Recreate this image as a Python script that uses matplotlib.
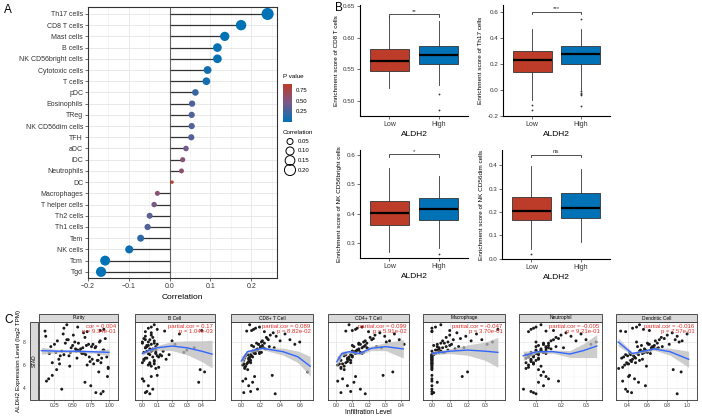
import numpy as np
import matplotlib
matplotlib.use('Agg')
import matplotlib.pyplot as plt
from matplotlib.colors import LinearSegmentedColormap
from matplotlib.patches import Rectangle

plt.rcParams['font.family'] = ['Liberation Sans', 'DejaVu Sans']

# ---------------- panel A data ----------------
cells = ['Th17 cells', 'CD8 T cells', 'Mast cells', 'B cells', 'NK CD56bright cells',
         'Cytotoxic cells', 'T cells', 'pDC', 'Eosinophils', 'TReg', 'NK CD56dim cells',
         'TFH', 'aDC', 'iDC', 'Neutrophils', 'DC', 'Macrophages', 'T helper cells',
         'Th2 cells', 'Th1 cells', 'Tem', 'NK cells', 'Tcm', 'Tgd']
corr = [0.24, 0.175, 0.135, 0.117, 0.117, 0.093, 0.09, 0.063, 0.055, 0.054, 0.054,
        0.053, 0.04, 0.032, 0.029, 0.006, -0.03, -0.038, -0.049, -0.054, -0.071,
        -0.099, -0.158, -0.168]
pval = [0.0, 0.0007, 0.009, 0.023, 0.023, 0.07, 0.08, 0.22, 0.29, 0.30, 0.30,
        0.31, 0.44, 0.54, 0.58, 0.91, 0.56, 0.46, 0.34, 0.30, 0.17, 0.055, 0.002, 0.001]
size_legend = [0.05, 0.10, 0.15, 0.20]
pval_ticks = [0.25, 0.50, 0.75]

# ---------------- panel B data ----------------
b_ylabels = ['Enrichment score of CD8 T cells', 'Enrichment score of Th17 cells',
             'Enrichment score of NK CD56bright cells', 'Enrichment score of NK CD56dim cells']
groups = ['Low', 'High']
# whislo, q1, median, q3, whishi
b_low = [[0.520, 0.547, 0.564, 0.583, 0.634],
         [-0.077, 0.140, 0.228, 0.300, 0.467],
         [0.271, 0.361, 0.402, 0.443, 0.555],
         [0.041, 0.167, 0.206, 0.264, 0.397]]
b_high = [[0.525, 0.558, 0.572, 0.587, 0.627],
          [0.000, 0.200, 0.277, 0.338, 0.467],
          [0.283, 0.379, 0.416, 0.453, 0.530],
          [0.071, 0.172, 0.218, 0.283, 0.383]]
b_low_out = [[], [-0.115, -0.154], [], [0.021]]
b_high_out = [[0.511, 0.485], [0.55, -0.005, -0.02, -0.03, -0.04, -0.123], [0.262], []]
b_sig = ['**', '***', '*', 'ns']
b_bracket = [0.637, 0.600, 0.602, 0.446]
b_ylim = [(0.476, 0.652), (-0.2, 0.654), (0.249, 0.617), (-0.002, 0.466)]
b_yticks = [[0.50, 0.55, 0.60, 0.65], [-0.2, 0.0, 0.2, 0.4, 0.6],
            [0.3, 0.4, 0.5, 0.6], [0.0, 0.1, 0.2, 0.3, 0.4]]

# ---------------- panel C data ----------------
c_titles = ['Purity', 'B Cell', 'CD8+ T Cell', 'CD4+ T Cell', 'Macrophage', 'Neutrophil', 'Dendritic Cell']
c_notes = ['cor = 0.004\np = 9.34e-01', 'partial.cor = 0.17\np = 1.04e-03',
           'partial.cor = 0.089\np = 8.82e-02', 'partial.cor = 0.099\np = 5.91e-02',
           'partial.cor = -0.047\np = 3.70e-01', 'partial.cor = -0.005\np = 9.21e-01',
           'partial.cor = -0.016\np = 7.57e-01']
c_xlim = [(0.037, 1.01), (-0.02, 0.49), (-0.015, 0.735), (-0.01, 0.43),
          (-0.02, 0.41), (0.032, 0.364), (0.283, 1.05)]
c_xticks = [[0.25, 0.50, 0.75, 1.00], [0.0, 0.1, 0.2, 0.3, 0.4], [0.0, 0.2, 0.4, 0.6],
            [0.0, 0.1, 0.2, 0.3, 0.4], [0.0, 0.1, 0.2, 0.3], [0.1, 0.2, 0.3],
            [0.4, 0.6, 0.8, 1.0]]
c_xticklabels = [['0.25', '0.50', '0.75', '1.00'], ['0.0', '0.1', '0.2', '0.3', '0.4'],
                 ['0.0', '0.2', '0.4', '0.6'], ['0.0', '0.1', '0.2', '0.3', '0.4'],
                 ['0.0', '0.1', '0.2', '0.3'], ['0.1', '0.2', '0.3'], ['0.4', '0.6', '0.8', '1.0']]

# ALDH2 expression (shared by all panels)
aldh2 = [7.2, 7.8, 6.5, 8.1, 7.0, 6.8, 7.5, 8.4, 6.2, 7.3,
         7.9, 6.9, 7.6, 8.6, 6.4, 7.1, 7.7, 6.7, 8.2, 7.4,
         6.1, 7.0, 8.0, 6.6, 7.2, 8.8, 6.3, 7.5, 6.9, 7.8,
         6.0, 7.3, 8.3, 6.8, 7.6, 5.9, 7.1, 8.5, 6.5, 7.4,
         7.9, 6.2, 7.0, 8.1, 6.7, 7.7, 5.8, 7.2, 8.7, 6.4,
         7.6, 6.9, 8.2, 7.3, 6.6, 7.8, 6.1, 7.5, 8.0, 7.1,
         9.2, 9.5, 8.9, 9.0, 9.3, 8.95, 9.1, 5.6, 5.4, 5.7,
         5.1, 4.8, 4.5, 4.2, 3.9, 3.6, 3.5, 4.6, 5.0, 3.7]
purity = [0.55, 0.72, 0.31, 0.88, 0.63, 0.45, 0.81, 0.67, 0.22, 0.93,
          0.58, 0.38, 0.76, 0.51, 0.84, 0.27, 0.69, 0.97, 0.42, 0.61,
          0.79, 0.18, 0.53, 0.90, 0.35, 0.65, 0.74, 0.48, 0.86, 0.25,
          0.70, 0.57, 0.95, 0.33, 0.82, 0.46, 0.62, 0.13, 0.77, 0.54,
          0.40, 0.89, 0.66, 0.29, 0.73, 0.50, 0.99, 0.60, 0.37, 0.85,
          0.20, 0.68, 0.44, 0.92, 0.56, 0.78, 0.32, 0.64, 0.87, 0.47,
          0.38, 0.42, 0.70, 0.88, 0.57, 0.12, 0.93, 0.28, 0.86, 0.99,
          0.22, 0.17, 0.67, 0.75, 0.35, 0.82, 0.89, 0.14, 0.98, 0.92]
bcell = [0.03, 0.06, 0.01, 0.08, 0.04, 0.10, 0.02, 0.07, 0.05, 0.09,
         0.00, 0.12, 0.03, 0.06, 0.08, 0.01, 0.04, 0.11, 0.02, 0.07,
         0.05, 0.09, 0.00, 0.03, 0.14, 0.06, 0.08, 0.02, 0.05, 0.10,
         0.04, 0.07, 0.01, 0.13, 0.03, 0.06, 0.09, 0.02, 0.16, 0.05,
         0.08, 0.00, 0.04, 0.20, 0.07, 0.03, 0.11, 0.06, 0.25, 0.01,
         0.09, 0.18, 0.05, 0.30, 0.02, 0.22, 0.08, 0.35, 0.04, 0.28,
         0.04, 0.08, 0.02, 0.40, 0.06, 0.15, 0.10, 0.39, 0.42, 0.09,
         0.10, 0.00, 0.38, 0.04, 0.07, 0.02, 0.05, 0.01, 0.06, 0.03]
cd8 = [0.12, 0.18, 0.08, 0.22, 0.15, 0.05, 0.20, 0.26, 0.10, 0.16,
       0.24, 0.07, 0.13, 0.30, 0.03, 0.19, 0.11, 0.09, 0.28, 0.17,
       0.06, 0.14, 0.21, 0.04, 0.12, 0.33, 0.08, 0.23, 0.10, 0.18,
       0.02, 0.15, 0.27, 0.11, 0.20, 0.05, 0.13, 0.36, 0.09, 0.25,
       0.16, 0.07, 0.19, 0.40, 0.12, 0.22, 0.04, 0.14, 0.45, 0.10,
       0.29, 0.06, 0.50, 0.17, 0.08, 0.55, 0.03, 0.34, 0.60, 0.21,
       0.15, 0.09, 0.24, 0.11, 0.19, 0.06, 0.13, 0.07, 0.68, 0.04,
       0.32, 0.05, 0.12, 0.08, 0.17, 0.03, 0.35, 0.02, 0.14, 0.10]
cd4 = [0.10, 0.14, 0.07, 0.18, 0.12, 0.05, 0.16, 0.21, 0.09, 0.13,
       0.19, 0.06, 0.11, 0.24, 0.03, 0.15, 0.10, 0.08, 0.22, 0.14,
       0.04, 0.12, 0.17, 0.02, 0.10, 0.27, 0.07, 0.19, 0.09, 0.15,
       0.01, 0.13, 0.23, 0.10, 0.17, 0.05, 0.11, 0.30, 0.08, 0.20,
       0.14, 0.06, 0.16, 0.33, 0.10, 0.18, 0.03, 0.12, 0.36, 0.09,
       0.25, 0.05, 0.39, 0.14, 0.07, 0.42, 0.02, 0.28, 0.31, 0.17,
       0.13, 0.08, 0.20, 0.10, 0.16, 0.06, 0.12, 0.05, 0.35, 0.03,
       0.29, 0.04, 0.11, 0.07, 0.15, 0.03, 0.18, 0.01, 0.12, 0.09]
macro = [0.00, 0.03, 0.00, 0.06, 0.01, 0.00, 0.04, 0.08, 0.00, 0.02,
         0.05, 0.00, 0.03, 0.10, 0.00, 0.07, 0.01, 0.00, 0.12, 0.04,
         0.00, 0.02, 0.09, 0.00, 0.05, 0.14, 0.00, 0.06, 0.01, 0.11,
         0.00, 0.03, 0.16, 0.00, 0.08, 0.00, 0.04, 0.19, 0.00, 0.13,
         0.07, 0.00, 0.02, 0.22, 0.00, 0.10, 0.00, 0.05, 0.25, 0.00,
         0.15, 0.00, 0.28, 0.09, 0.00, 0.31, 0.00, 0.18, 0.34, 0.06,
         0.00, 0.05, 0.00, 0.10, 0.02, 0.00, 0.37, 0.00, 0.20, 0.00,
         0.00, 0.00, 0.03, 0.00, 0.00, 0.01, 0.00, 0.00, 0.17, 0.00]
neutro = [0.10, 0.13, 0.08, 0.16, 0.11, 0.07, 0.14, 0.18, 0.09, 0.12,
          0.15, 0.06, 0.10, 0.20, 0.08, 0.13, 0.11, 0.07, 0.17, 0.12,
          0.09, 0.14, 0.10, 0.06, 0.12, 0.22, 0.08, 0.15, 0.11, 0.13,
          0.07, 0.10, 0.19, 0.09, 0.14, 0.12, 0.08, 0.24, 0.11, 0.16,
          0.13, 0.06, 0.10, 0.26, 0.09, 0.15, 0.07, 0.12, 0.28, 0.10,
          0.18, 0.08, 0.30, 0.14, 0.11, 0.32, 0.09, 0.21, 0.34, 0.13,
          0.09, 0.12, 0.07, 0.17, 0.10, 0.14, 0.08, 0.11, 0.13, 0.06,
          0.12, 0.15, 0.11, 0.13, 0.05, 0.09, 0.10, 0.19, 0.14, 0.08]
dendritic = [0.52, 0.61, 0.45, 0.68, 0.55, 0.40, 0.64, 0.74, 0.48, 0.58,
             0.70, 0.38, 0.50, 0.80, 0.43, 0.60, 0.54, 0.36, 0.72, 0.57,
             0.41, 0.63, 0.49, 0.34, 0.56, 0.85, 0.44, 0.66, 0.51, 0.62,
             0.37, 0.53, 0.77, 0.46, 0.65, 0.59, 0.42, 0.90, 0.55, 0.69,
             0.60, 0.39, 0.50, 0.95, 0.47, 0.67, 0.35, 0.58, 1.00, 0.52,
             0.75, 0.43, 0.88, 0.63, 0.48, 0.82, 0.40, 0.71, 0.92, 0.57,
             0.45, 0.52, 0.38, 0.62, 0.49, 0.33, 0.56, 0.86, 0.94, 0.31,
             0.42, 0.47, 0.51, 0.58, 0.38, 0.44, 0.90, 0.35, 0.41, 0.40]
c_x = [purity, bcell, cd8, cd4, macro, neutro, dendritic]

# loess fits: x, fit, half band width
fit_x = [[0.07, 0.3, 0.55, 0.8, 1.0],
         [0.0, 0.05, 0.1, 0.2, 0.3, 0.4, 0.47],
         [0.005, 0.067, 0.22, 0.43, 0.58, 0.706],
         [0.004, 0.036, 0.081, 0.144, 0.216, 0.306, 0.415],
         [0.0, 0.1, 0.2, 0.3, 0.37],
         [0.049, 0.103, 0.169, 0.236, 0.289, 0.343],
         [0.305, 0.447, 0.67, 0.827, 1.016]]
fit_y = [[7.25, 7.2, 7.2, 7.15, 7.1],
         [7.0, 7.3, 7.5, 7.65, 7.5, 7.2, 6.95],
         [6.35, 7.16, 7.45, 7.16, 6.72, 5.9],
         [6.29, 7.0, 7.16, 7.0, 7.45, 7.6, 7.4],
         [7.0, 7.2, 7.3, 7.2, 7.1],
         [6.8, 7.16, 7.16, 6.96, 7.25, 7.65],
         [8.0, 7.0, 7.4, 7.16, 6.5]]
fit_se = [[0.3, 0.12, 0.1, 0.12, 0.3],
          [0.15, 0.12, 0.2, 0.4, 0.6, 0.9, 1.2],
          [0.4, 0.15, 0.12, 0.3, 0.5, 0.85],
          [0.45, 0.2, 0.12, 0.12, 0.2, 0.35, 0.8],
          [0.12, 0.2, 0.45, 0.8, 1.3],
          [0.4, 0.1, 0.15, 0.3, 0.6, 1.0],
          [0.35, 0.12, 0.12, 0.3, 0.7]]

RED = '#BC3C29'
BLUE = '#0072B5'
W, H = 702, 416
fig = plt.figure(figsize=(W / 100, H / 100), dpi=100)


def px_axes(x0, y0, x1, y1):
    return fig.add_axes([x0 / W, 1 - y1 / H, (x1 - x0) / W, (y1 - y0) / H])


def dot_size(c):
    return 4 + 300 * abs(c)


# ---------------- A: lollipop ----------------
cmap = LinearSegmentedColormap.from_list('pv', [BLUE, '#79598A', RED])
ax = px_axes(88, 7, 277, 278)
ypos = np.arange(len(cells))
ax.hlines(ypos, 0, corr, color='#333333', lw=0.9, zorder=2)
ax.axvline(0, color='#666666', lw=0.8, zorder=1)
ax.scatter(corr, ypos, s=[dot_size(c) for c in corr], c=pval, cmap=cmap,
           vmin=0, vmax=0.91, edgecolors='none', zorder=3)
ax.set_yticks(ypos)
ax.set_yticklabels(cells, fontsize=5)
ax.set_ylim(len(cells) - 0.45, -0.62)
ax.set_xlim(-0.2, 0.263)
ax.set_xticks([-0.2, -0.1, 0.0, 0.1, 0.2])
ax.set_xticklabels(['\u22120.2', '\u22120.1', '0.0', '0.1', '0.2'], fontsize=5)
ax.set_xticks([-0.15, -0.05, 0.05, 0.15, 0.25], minor=True)
ax.grid(which='major', color='#E5E5E5', lw=0.6)
ax.grid(which='minor', axis='x', color='#F0F0F0', lw=0.4)
ax.set_axisbelow(True)
ax.tick_params(which='both', length=2, width=0.5, pad=1.5, colors='#333333')
ax.tick_params(which='minor', length=0)
for sp in ax.spines.values():
    sp.set_color('#333333')
    sp.set_linewidth(0.8)
ax.set_xlabel('Correlation', fontsize=6, labelpad=3)

# colour bar for p value
cax = px_axes(283, 84, 292, 122)
grad = np.linspace(0, 0.91, 100).reshape(-1, 1)
cax.imshow(grad, aspect='auto', cmap=cmap, origin='lower', extent=[0, 1, 0, 0.91])
cax.set_xticks([])
cax.set_yticks([])
for sp in cax.spines.values():
    sp.set_visible(False)

# ---------------- B: box plots ----------------
b_rects = [(360, 5, 468, 116), (503, 5, 610, 116), (360, 150, 468, 258), (502, 150, 610, 259)]
for i, rect in enumerate(b_rects):
    ax = px_axes(*rect)
    stats = []
    for vals, out in [(b_low[i], b_low_out[i]), (b_high[i], b_high_out[i])]:
        stats.append(dict(whislo=vals[0], q1=vals[1], med=vals[2], q3=vals[3],
                          whishi=vals[4], fliers=out))
    bp = ax.bxp(stats, positions=[1, 2], widths=0.8, patch_artist=True, showcaps=False,
                boxprops=dict(edgecolor='#333333', lw=0.6),
                medianprops=dict(color='black', lw=1.6),
                whiskerprops=dict(color='#333333', lw=0.6),
                flierprops=dict(marker='o', markersize=1.3, markerfacecolor='#333333',
                                markeredgecolor='none'))
    for patch, col in zip(bp['boxes'], [RED, BLUE]):
        patch.set_facecolor(col)
    lo, hi = b_ylim[i]
    ax.set_ylim(lo, hi)
    ax.set_xlim(0.4, 2.6)
    d = (hi - lo) * 0.022
    yb = b_bracket[i]
    ax.plot([1, 1, 2, 2], [yb - d, yb, yb, yb - d], color='#333333', lw=0.6, clip_on=False)
    ax.text(1.5, yb + d * 0.3, b_sig[i], ha='center', va='bottom', fontsize=4.5, color='#333333')
    ax.set_yticks(b_yticks[i])
    ax.set_yticklabels(['%.2f' % t if i == 0 else '%.1f' % t for t in b_yticks[i]], fontsize=4.5)
    ax.set_xticks([1, 2])
    ax.set_xticklabels(groups, fontsize=5)
    ax.set_xlabel('ALDH2', fontsize=6, labelpad=2)
    ax.set_ylabel(b_ylabels[i], fontsize=4.6, labelpad=3)
    ax.tick_params(length=2, width=0.5, pad=1.5, colors='#333333')
    for s in ['top', 'right']:
        ax.spines[s].set_visible(False)
    for s in ['left', 'bottom']:
        ax.spines[s].set_linewidth(0.8)

# ---------------- C: TIMER scatter ----------------
c_rects = [(39, 118), (135, 215), (231, 313), (328, 409), (423, 505), (519, 602), (616, 697)]
cy0, cy1 = 322, 400
for i, (x0, x1) in enumerate(c_rects):
    ax = px_axes(x0, cy0, x1, cy1)
    ax.scatter(c_x[i], aldh2, s=4.5, c='#1a1a1a', edgecolors='none', zorder=2)
    fx = np.array(fit_x[i])
    fy = np.array(fit_y[i])
    fs = np.array(fit_se[i])
    ax.fill_between(fx, fy - fs, fy + fs, color='#BDBDBD', alpha=0.75, lw=0, zorder=3)
    ax.plot(fx, fy, color='#3366FF', lw=1.0, zorder=4)
    ax.set_xlim(*c_xlim[i])
    ax.set_ylim(2.96, 9.74)
    ax.set_xticks(c_xticks[i])
    ax.set_xticklabels(c_xticklabels[i], fontsize=3.5)
    ax.set_yticks([4, 6, 8])
    ax.set_yticks([3, 5, 7, 9], minor=True)
    xt = c_xticks[i]
    step = xt[1] - xt[0]
    ax.set_xticks([t + step / 2 for t in [xt[0] - step] + xt], minor=True)
    ax.grid(which='major', color='#E3E3E3', lw=0.5)
    ax.grid(which='minor', color='#F2F2F2', lw=0.3)
    ax.set_axisbelow(True)
    ax.tick_params(which='both', length=1.5, width=0.4, pad=0.8, colors='#333333')
    ax.tick_params(which='minor', length=0)
    if i == 0:
        ax.set_yticklabels(['4', '6', '8'], fontsize=3.5)
        ax.tick_params(axis='y', pad=8)
    else:
        ax.set_yticklabels([])
        ax.tick_params(axis='y', length=0)
    for sp in ax.spines.values():
        sp.set_color('#333333')
        sp.set_linewidth(0.6)
    ax.text(0.97, 0.97, c_notes[i], transform=ax.transAxes, ha='right', va='top',
            fontsize=4.3, color='#E0302A', linespacing=1.0, zorder=5)

# ---------------- overlay: labels, legends, strips ----------------
ov = fig.add_axes([0, 0, 1, 1])
ov.set_xlim(0, W)
ov.set_ylim(H, 0)
ov.axis('off')

ov.text(4, 13, 'A', fontsize=8.5)
ov.text(335, 11, 'B', fontsize=8.5)
ov.text(4, 323, 'C', fontsize=8.5)

# p value legend
ov.text(283, 79, 'P value', fontsize=4.5, va='bottom')
for t in pval_ticks:
    ov.text(296, 122 - (t / 0.91) * 38, '%.2f' % t, fontsize=4.3, va='center')

# correlation size legend
ov.text(283, 132, 'Correlation', fontsize=4.5, va='center')
for k, c in enumerate(size_legend):
    yy = 141.5 + k * 9.5
    ov.scatter([290], [yy], s=dot_size(c), facecolors='none', edgecolors='black', lw=0.7)
    ov.text(298, yy, '%.2f' % c, fontsize=4.3, va='center')

# strips
for i, (x0, x1) in enumerate(c_rects):
    ov.add_patch(Rectangle((x0, 314), x1 - x0, 8, facecolor='#D9D9D9',
                           edgecolor='#333333', lw=0.6))
    ov.text((x0 + x1) / 2, 318, c_titles[i], fontsize=3.5, ha='center', va='center')
ov.add_patch(Rectangle((30, cy0), 8, cy1 - cy0, facecolor='#D9D9D9',
                       edgecolor='#333333', lw=0.6))
ov.text(34, (cy0 + cy1) / 2, 'STAD', fontsize=3.5, rotation=90, ha='center', va='center')
ov.text(19, (cy0 + cy1) / 2, 'ALDH2 Expression Level (log2 TPM)', fontsize=4.5,
        rotation=90, ha='center', va='center')
ov.text(368, 412, 'Infiltration Level', fontsize=4.8, ha='center', va='center')

fig.savefig('out.png', dpi=100)
